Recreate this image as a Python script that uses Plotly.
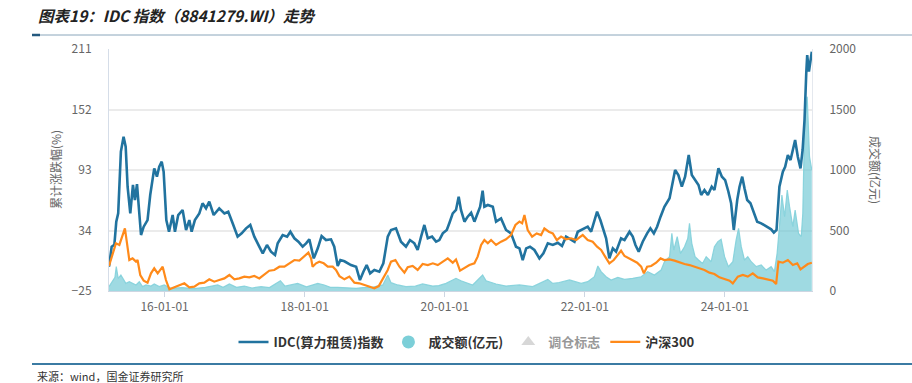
import plotly.graph_objects as go

# ---------------- data ----------------
idc_dates = ["2015-03-17","2015-03-31","2015-04-14","2015-04-24","2015-05-04","2015-05-18","2015-06-01","2015-06-12","2015-06-22","2015-07-06",
"2015-07-20","2015-07-30","2015-08-10","2015-08-20","2015-08-31","2015-09-14","2015-10-04","2015-10-18","2015-11-08","2015-11-22",
"2015-12-04","2015-12-17","2015-12-27","2016-01-10","2016-01-24","2016-02-12","2016-02-24","2016-03-12","2016-04-04","2016-04-22",
"2016-05-09","2016-05-21","2016-06-07","2016-06-30","2016-07-17","2016-08-04","2016-08-21","2016-09-13","2016-10-12","2016-11-08",
"2016-11-28","2016-12-21","2017-01-16","2017-02-06","2017-03-01","2017-03-23","2017-04-13","2017-05-09","2017-05-27","2017-06-18",
"2017-07-09","2017-07-30","2017-08-13","2017-09-08","2017-10-01","2017-10-18","2017-11-08","2017-11-29","2017-12-21","2018-01-08",
"2018-01-25","2018-02-17","2018-03-10","2018-03-30","2018-04-22","2018-05-18","2018-06-04","2018-06-22","2018-07-06","2018-07-27",
"2018-08-30","2018-09-26","2018-10-16","2018-11-03","2018-11-20","2018-12-08","2018-12-30","2019-01-25","2019-02-15","2019-03-10",
"2019-03-27","2019-04-22","2019-05-18","2019-06-13","2019-07-04","2019-07-27","2019-08-13","2019-08-31","2019-09-17","2019-10-05",
"2019-10-27","2019-11-17","2019-12-04","2019-12-22","2020-01-12","2020-01-26","2020-02-12","2020-02-29","2020-03-14","2020-03-26",
"2020-04-13","2020-04-30","2020-05-18","2020-06-04","2020-06-21","2020-07-04","2020-07-17","2020-07-26","2020-08-13","2020-09-08",
"2020-09-25","2020-10-21","2020-11-16","2020-12-12","2021-01-07","2021-01-25","2021-02-11","2021-03-01","2021-03-21","2021-04-13",
"2021-05-09","2021-05-30","2021-06-22","2021-07-18","2021-08-13","2021-09-04","2021-09-25","2021-10-21","2021-11-08","2021-11-25",
"2021-12-21","2022-01-16","2022-02-03","2022-02-17","2022-03-06","2022-03-23","2022-04-10","2022-04-22","2022-05-09","2022-05-27",
"2022-06-13","2022-07-09","2022-07-27","2022-08-22","2022-09-08","2022-09-22","2022-10-09","2022-10-30","2022-11-22","2022-12-09",
"2022-12-27","2023-01-13","2023-01-31","2023-02-20","2023-03-19","2023-04-05","2023-04-17","2023-05-04","2023-05-22","2023-06-08",
"2023-06-27","2023-07-13","2023-07-30","2023-08-17","2023-08-31","2023-09-17","2023-10-05","2023-10-25","2023-11-08","2023-11-29",
"2023-12-17","2024-01-03","2024-01-20","2024-02-03","2024-02-17","2024-03-06","2024-03-18","2024-04-01","2024-04-13","2024-04-27",
"2024-05-14","2024-06-01","2024-06-18","2024-07-09","2024-08-04","2024-08-30","2024-09-13","2024-09-27","2024-10-12","2024-10-30",
"2024-11-11","2024-11-25","2024-12-09","2024-12-21","2025-01-02","2025-01-16","2025-01-30","2025-02-10","2025-02-20","2025-03-01",
"2025-03-06","2025-03-15","2025-03-23","2025-03-30"]
idc_values = [-1.3,18.2,20,42.6,50.7,110.9,125.5,115.7,76.7,50.7,
78.4,63.7,79.3,57.2,29.6,37.7,44.2,68.6,94.6,86.5,
96.2,101.1,91.4,44.2,32.8,49.1,32.8,49.1,54,34.5,
44.2,32.8,44.2,50.7,60.5,55.6,62.1,49.1,55.6,50.7,
52.3,41,28,31.2,36.1,39.4,28,18.2,11.7,19.9,
13.3,10.1,21.5,29.6,28,32.8,26.4,23.1,18.2,21.5,
25.4,6.8,16.6,28.6,24.7,25.4,18.2,-0.6,5.2,4,
0.3,-1.3,-14.3,-6.2,0.3,-7.8,-4.5,-6.2,2,28,
34.5,36.1,23.1,18.2,24.7,21.5,15,28,39.4,26.4,
28,23.1,24.7,31.2,34.5,41.6,50.7,54,67,54,
42.6,47.5,51.4,42.6,50.7,57.2,72.8,57.2,58.9,57.2,
42.6,45.8,34.5,31.2,18.2,16.6,5.2,16.6,18.2,15,
6.8,11.7,21.5,19.9,22.1,18.9,28,25.4,23.1,32.8,
35.1,37.7,32.8,42.6,52.3,44.2,32.8,26.4,6.8,16.6,
13.3,26.4,24.7,32.8,28,19.9,13.3,23.1,31.2,36.1,
31.2,37.7,47.5,57.2,65.4,83.2,93,88.1,76.7,86.5,
107.6,88.1,83.2,78.4,68.6,73.5,68.6,76.7,73.5,94.6,
86.5,83.2,71.8,60.5,34.5,63.7,76.7,86.5,75.1,63.7,
60.5,50.7,42.6,41,37.7,35.1,31.9,34.5,76.7,91.4,
96.2,107.6,102.7,114.1,122.3,106,94.6,112.5,141.8,187.3,
205.1,188.9,200.3,208.4]

hs300_dates = ["2015-03-17","2015-04-05","2015-04-22","2015-05-10","2015-05-27","2015-06-08","2015-06-19","2015-07-01","2015-07-18","2015-08-05",
"2015-08-13","2015-08-27","2015-09-14","2015-10-04","2015-10-22","2015-11-08","2015-11-26","2015-12-10","2015-12-22","2016-01-08",
"2016-01-26","2016-02-21","2016-03-18","2016-04-13","2016-05-09","2016-06-04","2016-06-30","2016-07-26","2016-08-21","2016-09-16",
"2016-10-12","2016-11-08","2016-12-04","2016-12-30","2017-01-25","2017-02-20","2017-03-18","2017-04-13","2017-05-09","2017-06-04",
"2017-06-30","2017-07-26","2017-08-22","2017-09-17","2017-10-13","2017-11-08","2017-12-04","2017-12-30","2018-01-20","2018-02-03",
"2018-02-11","2018-03-01","2018-03-18","2018-04-10","2018-05-01","2018-05-27","2018-06-13","2018-07-01","2018-07-27","2018-08-22",
"2018-09-17","2018-10-13","2018-11-08","2018-12-04","2018-12-30","2019-01-22","2019-02-12","2019-03-10","2019-03-27","2019-04-19",
"2019-05-10","2019-06-05","2019-06-22","2019-07-18","2019-08-13","2019-09-08","2019-10-05","2019-10-31","2019-11-26","2019-12-22",
"2020-01-17","2020-02-12","2020-02-29","2020-03-21","2020-04-13","2020-05-09","2020-06-04","2020-06-21","2020-07-09","2020-07-26",
"2020-08-13","2020-08-30","2020-09-25","2020-10-21","2020-11-16","2020-12-12","2021-01-04","2021-01-25","2021-02-08","2021-02-20",
"2021-03-09","2021-04-01","2021-04-25","2021-05-18","2021-06-04","2021-06-27","2021-07-18","2021-08-08","2021-08-30","2021-09-25",
"2021-10-21","2021-11-17","2021-12-04","2021-12-21","2022-01-16","2022-02-11","2022-03-06","2022-03-27","2022-04-17","2022-05-09",
"2022-06-01","2022-06-22","2022-07-09","2022-07-27","2022-08-17","2022-09-08","2022-10-01","2022-10-22","2022-11-05","2022-11-22",
"2022-12-13","2023-01-08","2023-01-31","2023-02-20","2023-03-19","2023-04-14","2023-05-10","2023-06-05","2023-07-01","2023-07-27",
"2023-08-22","2023-09-17","2023-10-13","2023-11-08","2023-12-04","2023-12-31","2024-01-26","2024-02-12","2024-03-09","2024-04-04",
"2024-04-30","2024-05-26","2024-06-21","2024-07-18","2024-08-13","2024-09-08","2024-09-25","2024-10-07","2024-10-30","2024-11-25",
"2024-12-21","2025-01-13","2025-01-30","2025-02-20","2025-03-09","2025-03-30"]
hs300_values = [-0.6,11.7,21.5,19.9,29.6,36.1,21.5,5.2,6.8,3.6,
5.2,-9.4,-14.9,-16.9,-7.8,-2.9,-7.8,-4.5,-1.3,-14.3,
-23.4,-21.4,-19.2,-17.5,-21.4,-20.8,-17.5,-16.9,-13.6,-15.9,
-14.3,-12.7,-9.4,-13.6,-12.7,-11,-11.7,-10.4,-12.7,-9.4,
-5.2,-4.5,-1.3,-1.3,2,5.2,4.6,8.5,12.4,6.8,
-1.3,2,3.6,2,-1.3,-1.3,-4.5,-10.5,-13.6,-11,
-16.9,-17.5,-19.2,-20.2,-22.4,-20.2,-12.7,-4.5,3.6,5.2,
-1.3,-7.1,-1.9,-0.6,-4.5,1.3,0.3,2,0.3,3.6,
6.8,2.6,5.8,-5.2,-2.9,0.3,2,8.5,19.9,24.7,
21.5,24.7,19.9,23.1,25.4,29.6,39.4,42.6,41,49.1,
34.5,28,31.2,29.6,36.1,32.8,31.2,24.7,28,25.4,
26.4,24.7,27.3,29.6,24.7,23.1,18.2,15,8.5,2,
5.2,10.1,14.3,9.1,6.8,5.2,2.6,-1.3,-7.8,-1.3,
-0.6,2.6,6.8,5.2,5.8,4.6,2.6,1.3,0.3,-1.3,
-2.9,-4.5,-7.1,-8.4,-11.7,-13.6,-14.9,-17.5,-11,-9.4,
-11,-7.8,-11.7,-12.7,-13.6,-14.9,-18.2,3.6,2.6,5.2,
0.3,2,-3.9,-0.6,1.3,2.6]

vol_dates = ["2015-03-17","2015-04-05","2015-04-17","2015-04-24","2015-05-04","2015-05-18","2015-06-01","2015-06-13","2015-07-01","2015-07-18",
"2015-08-05","2015-08-22","2015-09-08","2015-09-26","2015-10-22","2015-11-08","2015-12-04","2015-12-30","2016-02-03","2016-04-01",
"2016-06-01","2016-08-01","2016-10-04","2016-11-01","2016-12-04","2017-01-10","2017-02-20","2017-04-01","2017-05-18","2017-07-01",
"2017-08-27","2017-09-20","2017-10-21","2017-11-25","2018-01-10","2018-03-10","2018-04-13","2018-05-15","2018-06-22","2018-08-01",
"2018-09-26","2018-11-01","2018-12-18","2019-02-12","2019-03-10","2019-03-27","2019-05-01","2019-06-13","2019-08-01","2019-09-08",
"2019-10-31","2019-12-01","2020-01-08","2020-02-29","2020-03-26","2020-05-26","2020-07-17","2020-08-04","2020-09-25","2020-11-16",
"2021-01-25","2021-04-04","2021-06-22","2021-07-18","2021-08-20","2021-10-13","2021-11-25","2021-12-13","2022-01-16","2022-02-20",
"2022-03-10","2022-03-27","2022-04-22","2022-05-18","2022-06-22","2022-07-27","2022-09-08","2022-10-22","2022-11-25","2022-12-30",
"2023-02-03","2023-02-20","2023-03-19","2023-03-31","2023-04-10","2023-04-28","2023-05-15","2023-06-05","2023-06-22","2023-07-01",
"2023-07-13","2023-07-30","2023-08-17","2023-09-07","2023-09-26","2023-10-22","2023-11-08","2023-11-26","2023-12-13","2023-12-31",
"2024-01-20","2024-02-12","2024-02-29","2024-03-13","2024-03-27","2024-04-13","2024-04-30","2024-05-18","2024-06-13","2024-07-09",
"2024-08-04","2024-08-30","2024-09-16","2024-09-30","2024-10-12","2024-10-25","2024-11-08","2024-11-22","2024-12-04","2024-12-21",
"2025-01-02","2025-01-20","2025-02-03","2025-02-11","2025-02-20","2025-03-01","2025-03-06","2025-03-18","2025-03-30"]
vol_values = [36,91,113,201,105,132,96,63,77,63,
50,77,36,50,41,58,36,50,22,28,
20,30,50,30,58,30,41,25,36,28,
85,40,50,63,35,63,50,30,30,25,
22,28,30,50,132,69,50,36,40,58,
41,45,63,105,85,50,132,85,58,41,
50,36,96,63,70,91,69,63,77,118,
207,160,118,91,113,96,105,118,160,132,
173,242,284,476,339,449,311,366,435,559,
394,284,256,228,284,242,366,408,427,284,
201,242,421,518,366,256,284,242,201,215,
173,201,160,311,532,793,614,835,697,532,
669,476,449,642,1358,1496,1606,1110,1000]

x_tick_vals = ["2016-01-01","2018-01-01","2020-01-01","2022-01-01","2024-01-01"]
x_tick_text = ["16-01-01","18-01-01","20-01-01","22-01-01","24-01-01"]
y_left_ticks = [-25, 34, 93, 152, 211]
y_right_ticks = [0, 500, 1000, 1500, 2000]

# ---------------- figure ----------------
FONT = "Noto Sans CJK SC, Microsoft YaHei, sans-serif"
BLUE = "#21739f"
ORANGE = "#ff8a1a"
TEAL_FILL = "rgba(108,198,210,0.65)"
TEAL_LINE = "rgba(130,208,218,0.9)"

fig = go.Figure()

# volume area on the base axis (right side) so the lines (overlaying axis) sit above it
fig.add_trace(go.Scatter(
    x=vol_dates, y=vol_values, yaxis="y", mode="lines",
    line=dict(color=TEAL_LINE, width=1.2), fill="tozeroy", fillcolor=TEAL_FILL,
    name="成交额(亿元)", showlegend=False, legendgroup="vol", hoverinfo="skip"))

fig.add_trace(go.Scatter(
    x=idc_dates, y=idc_values, yaxis="y2", mode="lines",
    line=dict(color=BLUE, width=2.6), name="IDC(算力租赁)指数"))

fig.add_trace(go.Scatter(
    x=[None], y=[None], yaxis="y", mode="markers",
    marker=dict(symbol="circle", size=13, color="#7ccfd8"),
    name="成交额(亿元)", legendgroup="vol"))

fig.add_trace(go.Scatter(
    x=[None], y=[None], yaxis="y2", mode="markers", visible="legendonly",
    marker=dict(symbol="triangle-up", size=12, color="#b0b0b0"),
    name="调仓标志"))

fig.add_trace(go.Scatter(
    x=hs300_dates, y=hs300_values, yaxis="y2", mode="lines",
    line=dict(color=ORANGE, width=2.2), name="沪深300"))

L, R, T, B = 109, 100, 49, 92
W, H = 912, 383
pw, ph = W - L - R, H - T - B

def px_x(p):
    return (p - L) / pw

def px_y(p):
    return (H - B - p) / ph

fig.update_layout(
    width=W, height=H,
    margin=dict(l=L, r=R, t=T, b=B),
    paper_bgcolor="white", plot_bgcolor="white",
    font=dict(family=FONT, color="#666", size=12),
    title=dict(text="<b><i>图表19：IDC 指数（8841279.WI）走势</i></b>",
               x=38 / W, xanchor="left", y=1 - 17 / H, yanchor="middle",
               xref="container", yref="container",
               font=dict(family=FONT, size=15.5, color="#222")),
    xaxis=dict(type="date", range=["2015-03-17", "2025-03-31"],
               tickvals=x_tick_vals, ticktext=x_tick_text,
               showgrid=False, zeroline=False,
               showline=True, linecolor="#cdd6e2", linewidth=1,
               ticks="outside", ticklen=5, tickcolor="#cdd6e2",
               tickfont=dict(size=12, color="#666")),
    yaxis=dict(range=[0, 2000], tickvals=y_right_ticks, side="right",
               showgrid=False, zeroline=False, showline=True, linecolor="#e4e8ee",
               linewidth=1, ticks="", ticklabelstandoff=14,
               tickfont=dict(size=12, color="#666")),
    yaxis2=dict(range=[-25, 211], tickvals=y_left_ticks, side="left", overlaying="y",
                showgrid=True, gridcolor="#ebebeb", gridwidth=1.5,
                zeroline=False, showline=True, linecolor="#d5dde8", linewidth=1,
                ticks="", ticklabelstandoff=14,
                tickfont=dict(size=12, color="#666")),
    legend=dict(orientation="h", x=px_x(467), xanchor="center",
                y=px_y(342), yanchor="middle",
                font=dict(family=FONT, size=13, color="#333", weight="bold"),
                itemwidth=30, tracegroupgap=0, bgcolor="rgba(0,0,0,0)"),
    showlegend=True,
)

fig.add_annotation(text="累计涨跌幅(%)", textangle=-90, showarrow=False,
                   xref="paper", yref="paper", x=px_x(55), y=0.5,
                   xanchor="center", yanchor="middle",
                   font=dict(family=FONT, size=12, color="#666"))
fig.add_annotation(text="成交额(亿元)", textangle=90, showarrow=False,
                   xref="paper", yref="paper", x=px_x(876), y=0.5,
                   xanchor="center", yanchor="middle",
                   font=dict(family=FONT, size=12, color="#666"))
fig.add_annotation(text="来源：wind，国金证券研究所", showarrow=False,
                   xref="paper", yref="paper", x=px_x(35), y=px_y(375.5),
                   xanchor="left", yanchor="middle",
                   font=dict(family=FONT, size=11, color="#333"))

# decorative rules: under the title and above the source
fig.add_shape(type="line", xref="paper", yref="paper",
              x0=px_x(32), x1=px_x(912), y0=px_y(35), y1=px_y(35),
              line=dict(color="#8aa6bb", width=1))
fig.add_shape(type="line", xref="paper", yref="paper",
              x0=px_x(32), x1=px_x(40), y0=px_y(35), y1=px_y(35),
              line=dict(color="#24597f", width=2.5))
fig.add_shape(type="line", xref="paper", yref="paper",
              x0=px_x(32), x1=px_x(912), y0=px_y(364), y1=px_y(364),
              line=dict(color="#3b7ba3", width=2))

fig.write_html("out.html", config={"displayModeBar": False},
               post_script="document.body.style.margin='0';document.body.style.padding='0';")
